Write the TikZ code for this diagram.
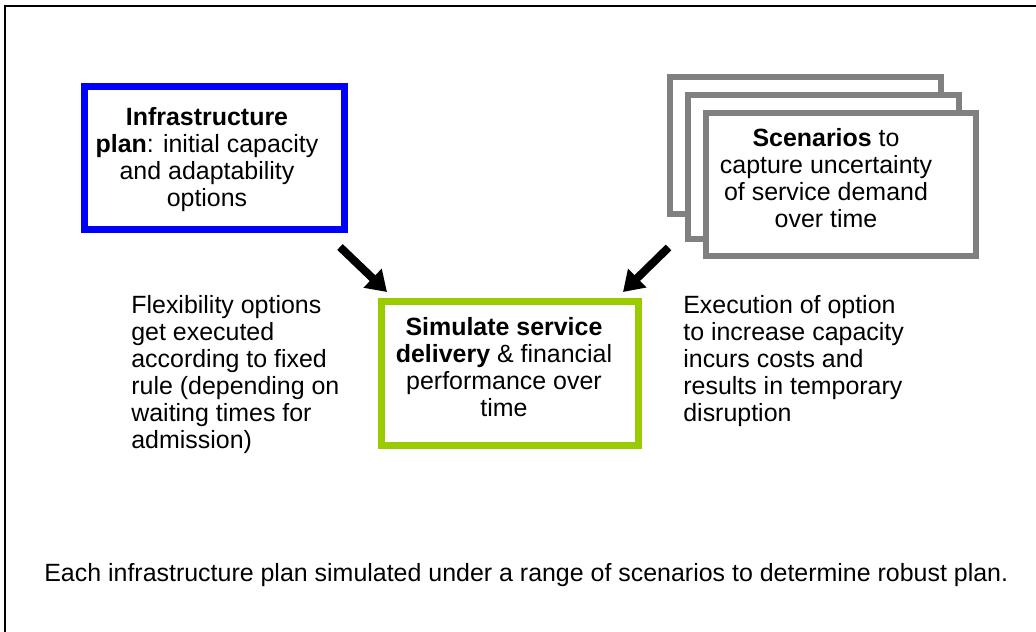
\documentclass[tikz,border=0pt]{standalone}
\usepackage{fontspec}
\setmainfont{Liberation Sans}
\usetikzlibrary{arrows.meta, positioning, calc}

\definecolor{planblue}{RGB}{0,0,255}
\definecolor{simgreen}{RGB}{153,204,0}
\definecolor{scengray}{RGB}{128,128,128}

\tikzset{
  every node/.style={font=\fontsize{14.2pt}{15.4pt}\selectfont, inner sep=0pt},
  planbox/.style={draw=planblue, line width=0.14cm, minimum width=5.2cm, minimum height=2.86cm},
  simbox/.style={draw=simgreen, line width=0.14cm, minimum width=5.14cm, minimum height=2.88cm},
  scenbox/.style={draw=scengray, fill=white, line width=0.12cm, minimum width=5.42cm, minimum height=2.88cm},
  boxtext/.style={align=center, anchor=north},
  note/.style={align=left, anchor=north west},
  bigarrow/.style={line width=0.16cm, -{Triangle[length=0.4cm, width=0.5cm]}}
}

\begin{document}
\begin{tikzpicture}[x=0.02cm, y=-0.02cm]
  \useasboundingbox (0,0) rectangle (1036,632);
  % frame
  \draw[line width=0.04cm] (5,632) |- (1036,6);

  % boxes
  \node[planbox] (plan) at (214.5,158) {};
  \node[scenbox, minimum height=2.74cm] (scen1) at (805.5,145.5) {};
  \node[scenbox] (scen2) at (823.5,167) {};
  \node[scenbox] (scen3) at (841,184.5) {};
  \node[simbox] (sim) at (510,373.5) {};

  % box texts
  \node[boxtext] (plantext) at (207,107) {\textbf{Infrastructure}\\\textbf{plan}: initial capacity\\and adaptability\\options};
  \node[boxtext] (scentext) at (826,128) {\textbf{Scenarios} to\\capture uncertainty\\of service demand\\over time};
  \node[boxtext] (simtext) at (504,317) {\textbf{Simulate service}\\\textbf{delivery} \& financial\\performance over\\time};

  % arrows
  \draw[bigarrow] ($(plan.south east)+(-8,14)$) -- ($(sim.north west)+(9,-6)$);
  \draw[bigarrow] ($(scen3.south west)+(-34,-12)$) -- ($(sim.north east)+(-19,-6)$);

  % notes
  \node[note] (flex) at (131,295) {Flexibility options\\get executed\\according to fixed\\rule (depending on\\waiting times for\\admission)};
  \node[note] (exec) at (683,295) {Execution of option\\to increase capacity\\incurs costs and\\results in temporary\\disruption};
  \node[note] (robust) at (44,563) {Each infrastructure plan simulated under a range of scenarios to determine robust plan.};
\end{tikzpicture}
\end{document}
